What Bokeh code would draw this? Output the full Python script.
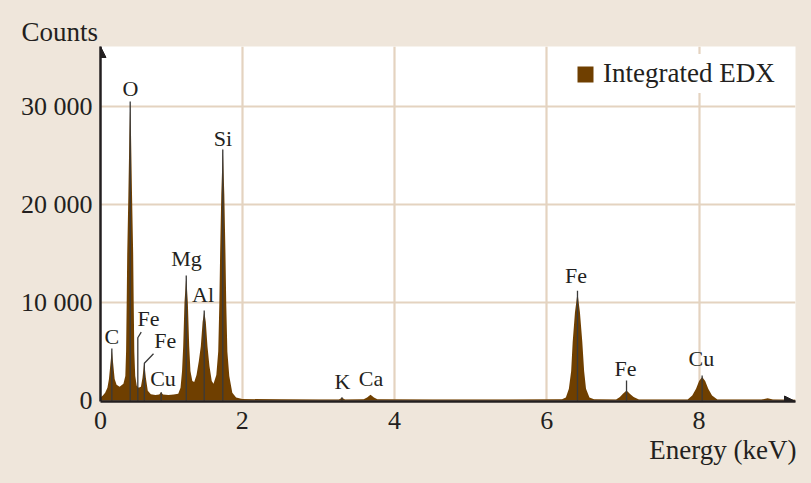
from bokeh.plotting import figure
from bokeh.models import (FixedTicker, Arrow, NormalHead, Legend, LegendItem,
                          ColumnDataSource, Range1d, Title)
from bokeh.embed import file_html
from bokeh.resources import INLINE
from bokeh.core.properties import value

# ---- spectrum ----
energy = [0.139, 0.17, 0.20, 0.23, 0.25, 0.27, 0.288, 0.305, 0.325, 0.35, 0.39,
          0.44, 0.465, 0.475, 0.483, 0.49, 0.505, 0.518, 0.529, 0.540, 0.553, 0.568,
          0.575, 0.583, 0.595, 0.615, 0.64, 0.67, 0.69, 0.713, 0.735, 0.76, 0.80,
          0.86, 0.91, 0.936, 0.96, 1.03, 1.10, 1.16, 1.19, 1.21, 1.225, 1.242, 1.265,
          1.286, 1.304, 1.32, 1.345, 1.37, 1.40, 1.43, 1.456, 1.48, 1.501, 1.522,
          1.544, 1.57, 1.60, 1.623, 1.66, 1.685, 1.70, 1.71, 1.725, 1.745, 1.765,
          1.78, 1.79, 1.805, 1.83, 1.87, 1.92, 2.0, 2.5, 3.0, 3.27, 3.31, 3.35,
          3.595, 3.64, 3.685, 3.73, 3.775, 4.5, 5.5, 6.2, 6.25, 6.29, 6.32, 6.34,
          6.37, 6.403, 6.435, 6.466, 6.49, 6.515, 6.56, 6.62, 6.91, 6.96, 7.00,
          7.047, 7.09, 7.14, 7.21, 7.85, 7.91, 7.96, 8.00, 8.04, 8.08, 8.12, 8.17,
          8.24, 8.82, 8.90, 8.97, 9.266]
counts = [300, 500, 800, 1300, 2200, 3800, 5170, 3800, 2200, 1600, 1400,
          1700, 2500, 5000, 10000, 15000, 21000, 27000, 30400, 27000, 21000, 15000,
          10000, 5000, 2500, 1500, 1300, 1400, 2300, 3900, 2300, 1000, 650,
          550, 600, 850, 600, 550, 600, 700, 1300, 3000, 5500, 10000, 12650,
          10000, 5500, 3000, 2000, 1900, 2600, 4000, 5500, 8000, 9080, 8000,
          5500, 3500, 2000, 1700, 2600, 5000, 10000, 15000, 21000, 25800, 21000,
          15000, 10000, 5000, 2500, 800, 300, 150, 120, 110, 110, 280, 110,
          120, 300, 580, 300, 120, 100, 100, 130, 300, 1200, 3000, 6000,
          9000, 11000, 9000, 6000, 3000, 1200, 300, 130, 100, 350, 700,
          1020, 700, 350, 100, 100, 500, 1200, 2000, 2400, 2000, 1200, 500,
          100, 100, 220, 100, 80]

# ---- peak labels ----
peak_names = ["C", "O", "Fe", "Fe", "Cu", "Mg", "Al", "Si", "K", "Ca", "Fe", "Fe", "Cu"]
label_x = [0.288, 0.533, 0.770, 0.989, 0.960, 1.269, 1.485, 1.748, 3.317, 3.691, 6.384, 7.033, 8.031]
label_y = [6510, 31870, 8350, 6100, 2260, 14470, 10800, 26770, 1920, 2260, 12740, 3280, 4270]

# leader lines (x list, y list per peak marker)
leader_xs = [[0.288, 0.288], [0.529, 0.529], [0.629, 0.629, 0.674], [0.715, 0.715, 0.835],
             [0.936, 0.936], [1.265, 1.265], [1.501, 1.501], [1.745, 1.745], [3.31, 3.31],
             [6.403, 6.403], [7.047, 7.047], [8.04, 8.04]]
leader_ys = [[0, 5300], [0, 30500], [0, 6400, 6970], [0, 3800, 4770],
             [0, 850], [0, 12750], [0, 9180], [0, 25600], [0, 340],
             [0, 11200], [0, 2040], [0, 2550]]

y_ticks = [0, 10000, 20000, 30000]
y_tick_labels = {0: "0", 10000: "10 000", 20000: "20 000", 30000: "30 000"}
x_start, x_end = 0.139, 9.266
y_start, y_end = -102, 36122
x_ticks = [x_start, 2, 4, 6, 8]
x_tick_labels = {x_start: "0", 2: "2", 4: "4", 6: "6", 8: "8"}

BG = "#EFE6DB"
GRID = "#E4D3C0"
BROWN = "#6F3F00"
INK = "#231F20"
FONT = "Liberation Serif"

p = figure(width=811, height=483, output_backend="svg", toolbar_location=None,
           x_range=Range1d(x_start, x_end), y_range=Range1d(y_start, y_end),
           background_fill_color="white", border_fill_color=BG,
           min_border_left=100, min_border_right=16, min_border_top=46, min_border_bottom=82)
p.outline_line_color = None

src = ColumnDataSource(dict(x=energy, y=counts))
spec = p.varea(x="x", y1=0, y2="y", source=src, fill_color=BROWN)

p.multi_line(xs=leader_xs, ys=leader_ys, line_color="#3A3A3A", line_width=1.3)

lab_src = ColumnDataSource(dict(x=label_x, y=label_y, t=peak_names))
p.text(x="x", y="y", text="t", source=lab_src, text_font=value(FONT),
       text_font_size="22px", text_color=INK, text_align="center",
       text_baseline="alphabetic")

for ax in (p.xaxis[0], p.yaxis[0]):
    ax.axis_line_color = INK
    ax.axis_line_width = 2.5
    ax.major_tick_in = 0
    ax.major_tick_out = 0
    ax.minor_tick_in = 0
    ax.minor_tick_out = 0
    ax.major_label_text_font = FONT
    ax.major_label_text_font_size = "26px"
    ax.major_label_text_color = INK

p.xaxis.ticker = FixedTicker(ticks=x_ticks)
p.xaxis.major_label_overrides = x_tick_labels
p.xaxis.major_label_standoff = 10
p.yaxis.ticker = FixedTicker(ticks=y_ticks)
p.yaxis.major_label_overrides = y_tick_labels
p.yaxis.major_label_standoff = 8

p.xgrid.ticker = FixedTicker(ticks=x_ticks)
p.ygrid.ticker = FixedTicker(ticks=y_ticks)
for g in (p.xgrid[0], p.ygrid[0]):
    g.grid_line_color = GRID
    g.grid_line_width = 2.2

# axis arrow heads
p.add_layout(Arrow(x_start=x_start, y_start=y_end - 2000, x_end=x_start, y_end=y_end,
                   line_alpha=0, end=NormalHead(size=11, fill_color=INK, line_color=INK)))
p.add_layout(Arrow(x_start=x_end - 0.2, y_start=y_start, x_end=x_end, y_end=y_start,
                   line_alpha=0, end=NormalHead(size=11, fill_color=INK, line_color=INK)))

# axis titles
p.add_layout(Title(text="Counts", align="left", offset=-79, standoff=0,
                   text_font=FONT, text_font_size="27px", text_font_style="normal",
                   text_color=INK), "above")
p.add_layout(Title(text="Energy (keV)", align="right", offset=-1, standoff=2,
                   text_font=FONT, text_font_size="27px", text_font_style="normal",
                   text_color=INK), "below")

legend = Legend(items=[LegendItem(label="Integrated EDX", renderers=[spec])],
                location=(471, 308), padding=4, spacing=0, margin=0,
                glyph_width=20, glyph_height=20, label_standoff=8,
                label_text_font=FONT, label_text_font_size="27px", label_text_color=INK,
                background_fill_color="white", background_fill_alpha=1.0,
                border_line_alpha=0)
p.add_layout(legend)

html = file_html(p, INLINE)
html = html.replace("</head>", "<style>html, body { background-color: %s; }</style></head>" % BG, 1)
open("out.html", "w").write(html)
